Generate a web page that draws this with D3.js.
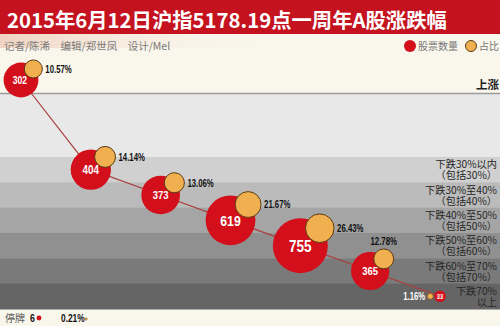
<!DOCTYPE html>
<html><head><meta charset="utf-8">
<script src="https://cdn.jsdelivr.net/npm/d3@7"></script>
<style>body{margin:0;background:#f9f6ec;} svg{display:block}</style>
</head><body><svg id="c" width="500" height="326"></svg>
<script>
const title = "2015年6月12日沪指5178.19点一周年A股涨跌幅";
const credits = "记者/陈浠　编辑/郑世凤　设计/Mel";
const categories = ["上涨","下跌30%以内","下跌30%至40%","下跌40%至50%","下跌50%至60%","下跌60%至70%","下跌70%以上"];
const bandLabels = [["上涨"],["下跌30%以内","（包括30%）"],["下跌30%至40%","（包括40%）"],["下跌40%至50%","（包括50%）"],["下跌50%至60%","（包括60%）"],["下跌60%至70%","（包括70%）"],["下跌70%","以上"]];
const counts = [302,404,373,619,755,365,33];
const shares = [10.57,14.14,13.06,21.67,26.43,12.78,1.16];
const suspendedLabel = "停牌";
const suspendedCount = 6;
const suspendedShare = 0.21;
const legendLabels = ["股票数量","占比"];

const W = 500, H = 326;
const RED = "#d20f1b", ORANGE = "#f1b04f", OSTROKE = "#5a3a12";
const NUMFONT = "'Liberation Sans',Arial,sans-serif";
const CJK = "'Noto Sans CJK SC','Noto Sans',sans-serif";

function condense(sel, k) {
  sel.each(function(){
    const w = this.getComputedTextLength();
    if (w) d3.select(this).attr("textLength", w*k).attr("lengthAdjust","spacingAndGlyphs");
  });
  return sel;
}

const svg = d3.select("#c");
const defs = svg.append("defs");
const g1 = defs.append("linearGradient").attr("id","pink").attr("x1","0").attr("x2","1");
g1.append("stop").attr("offset","0").attr("stop-color","#f0d3c2");
g1.append("stop").attr("offset","0.55").attr("stop-color","#f9f6ec").attr("stop-opacity",0);

const data = categories.map((c,i)=>({cat:c, count:counts[i], share:shares[i], labels:bandLabels[i], i}));

// scales
const x = d3.scalePoint().domain(categories).range([21, 440]);
const yBand = d3.scaleBand().domain(categories.slice(1)).range([157, 309]);
const topY = 80;
const y = c => c === categories[0] ? topY : yBand(c) + yBand.bandwidth()/2;
const rCount = d3.scaleSqrt().domain([0, d3.max(counts)]).range([0, 27.5]);
const rShare = d3.scaleSqrt().domain([0, d3.max(shares)]).range([0, 14.3]);
const bandFill = d3.scaleLinear().domain([0, categories.length-2]).range(["#d0d0d0","#656565"]);

// background
svg.append("rect").attr("width",W).attr("height",H).attr("fill","#f9f6ec");
svg.append("rect").attr("y",34).attr("width",W).attr("height",14).attr("fill","url(#pink)");
svg.append("rect").attr("y",94).attr("width",W).attr("height",yBand.range()[0]-94).attr("fill","#e8e8e8");
svg.append("line").attr("x1",0).attr("x2",W).attr("y1",93.5).attr("y2",93.5).attr("stroke","#9c9c9c").attr("stroke-width",1.5);
svg.selectAll("rect.band").data(categories.slice(1)).join("rect").attr("class","band")
  .attr("x",0).attr("width",W).attr("y",d=>yBand(d)).attr("height",yBand.bandwidth()+0.5)
  .attr("fill",(d,i)=>bandFill(i));

// title
svg.append("rect").attr("width",W).attr("height",34).attr("fill","#c4121e");
const t = svg.append("text").attr("x",7).attr("y",28).attr("fill","#fff")
  .attr("font-family",CJK).attr("font-weight",700).attr("font-size",21).text(title);
const tl = t.node().getComputedTextLength();
if (tl) t.attr("font-size", 21*440/tl);

svg.append("text").attr("x",4).attr("y",50).attr("fill","#7a7a7a").attr("font-family",CJK)
  .attr("font-size",10.5).text(credits);

// legend
svg.append("circle").attr("cx",410).attr("cy",46).attr("r",6).attr("fill",RED);
svg.append("text").attr("x",418).attr("y",50).attr("font-family",CJK).attr("font-size",10).attr("fill","#777").text(legendLabels[0]);
svg.append("circle").attr("cx",471).attr("cy",46).attr("r",5.5).attr("fill",ORANGE).attr("stroke",OSTROKE).attr("stroke-width",1);
svg.append("text").attr("x",479).attr("y",50).attr("font-family",CJK).attr("font-size",10).attr("fill","#777").text(legendLabels[1]);

// band labels
data.forEach(d=>{
  const cy = y(d.cat);
  if (d.i === 0) {
    svg.append("text").attr("x",499).attr("y",89).attr("text-anchor","end").attr("font-family",CJK)
      .attr("font-weight",700).attr("font-size",11.5).attr("fill","#222").text(d.labels[0]);
  } else {
    const tx = svg.append("text").attr("text-anchor","end").attr("font-family",CJK)
      .attr("font-size",10.2).attr("fill","#262626");
    d.labels.forEach((l,j)=>{
      tx.append("tspan").attr("x",497).attr("y",cy - 1.5 + j*11).text(l);
    });
  }
});

// connecting line
svg.append("path").datum(data).attr("fill","none").attr("stroke","#a9403f").attr("stroke-width",1.2)
  .attr("d", d3.line().x(d=>x(d.cat)).y(d=>y(d.cat)));

// red circles
const nodes = svg.selectAll("g.node").data(data).join("g").attr("class","node");
nodes.append("circle").attr("cx",d=>x(d.cat)).attr("cy",d=>y(d.cat)).attr("r",d=>rCount(d.count)).attr("fill",RED);

// orange circles
const last = data.length-1;
data.forEach(d=>{
  const R = rCount(d.count), r = rShare(d.share);
  if (d.i === last) { d.ox = x(d.cat) - R - r - 1; d.oy = y(d.cat); }
  else { const a = -Math.PI/4.3; d.ox = x(d.cat) + R*0.95*Math.cos(a); d.oy = y(d.cat) + R*0.95*Math.sin(a); }
});
nodes.append("circle").attr("cx",d=>d.ox).attr("cy",d=>d.oy).attr("r",d=>rShare(d.share))
  .attr("fill",ORANGE).attr("stroke",OSTROKE).attr("stroke-width",d=>d.i===last?0.5:1);

// count text
condense(nodes.append("text").attr("x",d=>x(d.cat) - (d.i===0?1:0)).attr("y",d=>y(d.cat)).attr("dy","0.36em")
  .attr("text-anchor","middle").attr("font-family",NUMFONT).attr("font-weight",700)
  .attr("font-size",d=>Math.max(7, rCount(d.count)*0.6)).attr("fill","#fff").text(d=>d.count), 0.82);

// share labels
condense(nodes.append("text")
  .attr("x",d=> d.i===last ? d.ox - rShare(d.share) - 2 : (d.i===5 ? d.ox : d.ox + rShare(d.share) + 3))
  .attr("y",d=> d.i===5 ? d.oy - rShare(d.share) - 4 : d.oy)
  .attr("dy",d=> d.i===5 ? "0" : "0.36em")
  .attr("text-anchor",d=> d.i===last ? "end" : (d.i===5 ? "middle" : "start"))
  .attr("font-family",NUMFONT).attr("font-weight",700).attr("font-size",10.5)
  .attr("fill",d=> d.i===last ? "#fff" : "#111").text(d=>d.share.toFixed(2)+"%"), 0.74);

// footer
svg.append("text").attr("x",5).attr("y",322).attr("font-family",CJK).attr("font-size",10).attr("fill","#555").text(suspendedLabel);
condense(svg.append("text").attr("x",30).attr("y",322).attr("font-family",NUMFONT).attr("font-weight",700).attr("font-size",11).attr("fill","#111").text(suspendedCount), 0.8);
svg.append("circle").attr("cx",39).attr("cy",318).attr("r",rCount(suspendedCount)).attr("fill",RED);
condense(svg.append("text").attr("x",61).attr("y",322).attr("font-family",NUMFONT).attr("font-weight",700).attr("font-size",11).attr("fill","#111").text(suspendedShare.toFixed(2)+"%"), 0.76);
svg.append("circle").attr("cx",86).attr("cy",319).attr("r",rShare(suspendedShare)).attr("fill",ORANGE).attr("stroke",OSTROKE).attr("stroke-width",0.4);
</script></body></html>
